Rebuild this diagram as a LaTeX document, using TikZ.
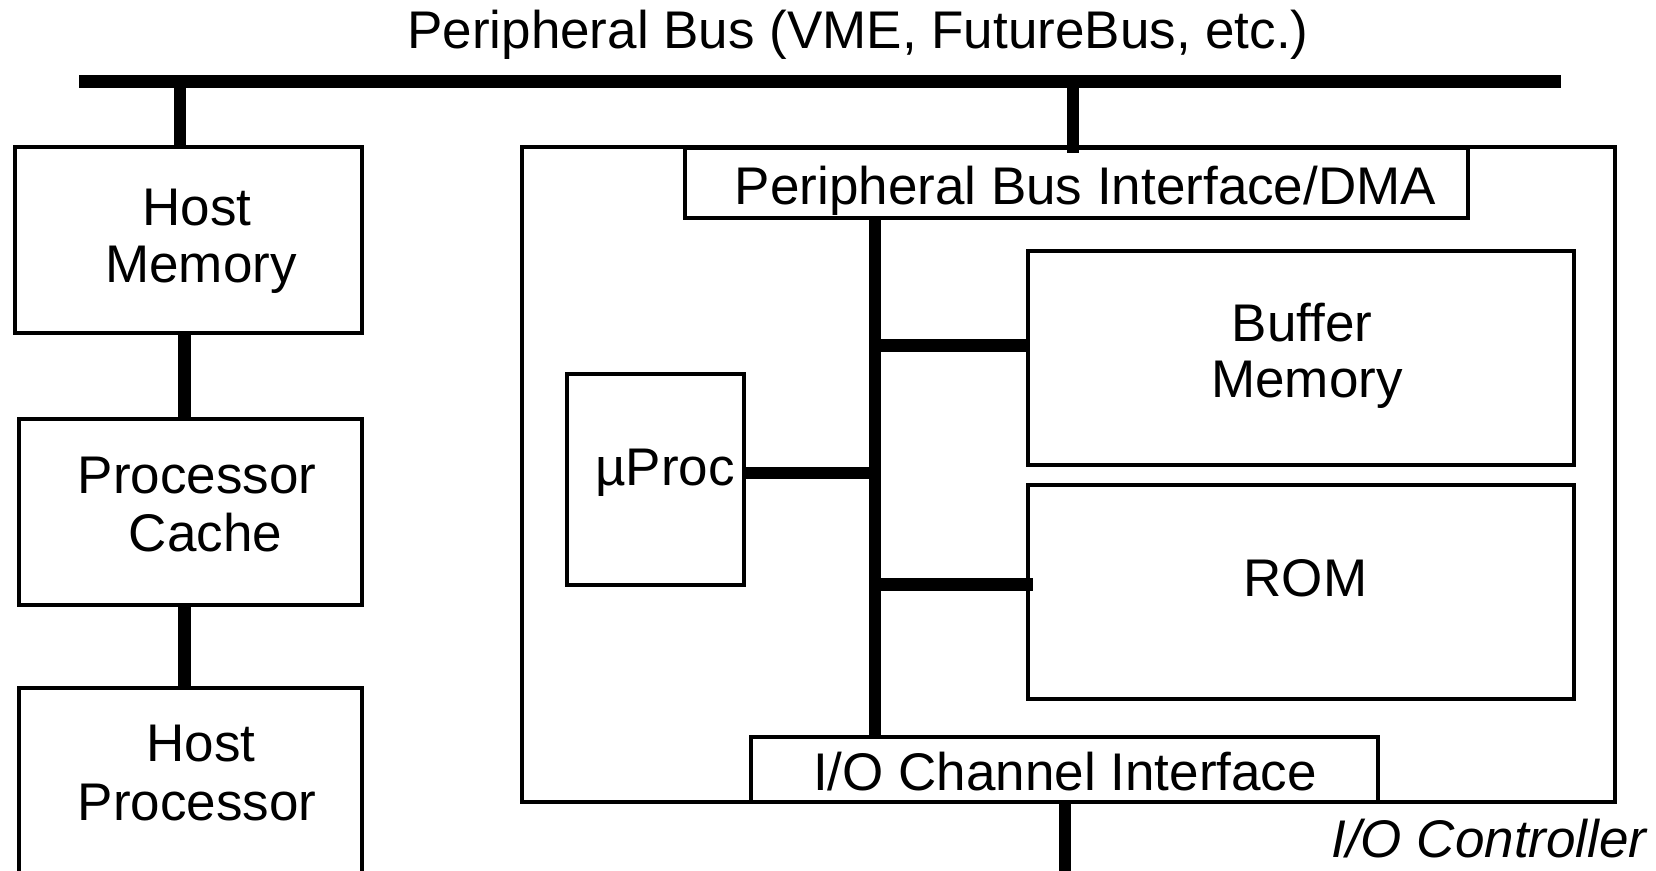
\documentclass[tikz,border=0pt]{standalone}
\usepackage{fontspec}
\setmainfont{Liberation Sans}
\usetikzlibrary{fit,calc}
\begin{document}
\begin{tikzpicture}[x=0.5pt,y=-0.5pt,
  box/.style={draw, line width=1.7pt, inner sep=0pt, outer sep=0pt},
  bus/.style={line width=6.3pt},
  lbl/.style={anchor=base, inner sep=0pt, font=\fontsize{26.5pt}{28pt}\selectfont},
  ilbl/.style={lbl, font=\fontsize{26.5pt}{28pt}\selectfont\itshape},
]
\useasboundingbox (0,0) rectangle (1656,871);

% host side
\node[box, fit={(15,147) (362,333)}] (hm) {};
\node[box, fit={(19,419) (362,605)}] (pc) {};
\node[box, fit={(19,688) (362,900)}] (hp) {};

% I/O controller and its parts
\node[box, fit={(522,147) (1615,802)}] (ioc) {};
\node[box, fit={(685,148) (1468,218)}] (pbi) {};
\node[box, fit={(1028,251) (1574,465)}] (buf) {};
\node[box, fit={(567,374) (744,585)}] (up) {};
\node[box, fit={(1028,485) (1574,699)}] (rom) {};
\node[box, fit={(751,737) (1378,802)}] (ioci) {};

% peripheral bus
\coordinate (busL) at (79,81.5);
\coordinate (busR) at (1561,81.5);
\draw[bus] (busL) -- (busR);
\node[lbl] (title) at (858,49) {Peripheral Bus (VME, FutureBus, etc.)};

% host chain
\coordinate (s1) at (180,81.5);
\draw[bus] (s1) -- (s1 |- hm.north);
\coordinate (s2) at (184.5,0);
\draw[bus] (s2 |- hm.south) -- (s2 |- pc.north);
\draw[bus] (s2 |- pc.south) -- (s2 |- hp.north);

% controller attachment to the bus
\coordinate (s3) at (1073,81.5);
\draw[bus] (s3) -- ($(s3 |- pbi.north)+(0,5)$);

% internal bus and branches
\coordinate (ib) at (875,0);
\draw[bus] (ib |- pbi.south) -- (ib |- ioci.north);
\coordinate (bBuf) at (1028,345.5);
\draw[bus] (bBuf -| ib) -- (bBuf);
\coordinate (bUp) at (744,473);
\draw[bus] (bUp) -- (bUp -| ib);
\coordinate (bRom) at (1033,584.5);
\draw[bus] (bRom -| ib) -- (bRom);

% I/O channel
\coordinate (s4) at (1065,900);
\draw[bus] (s4 |- ioci.south) -- (s4);

% labels
\node[lbl] (hmA) at (197,226) {Host};
\node[lbl] (hmB) at (201,283) {Memory};
\node[lbl] (pcA) at (197,494) {Processor};
\node[lbl] (pcB) at (205.5,551.5) {Cache};
\node[lbl] (hpA) at (201,762) {Host};
\node[lbl] (hpB) at (197,820) {Processor};
\node[lbl] (pbiT) at (1085.5,205) {Peripheral Bus Interface/DMA};
\node[lbl] (bufA) at (1302,341.5) {Buffer};
\node[lbl] (bufB) at (1307,398) {Memory};
\node[lbl] (upT) at (665,486) {µProc};
\node[lbl] (romT) at (1305.5,597) {ROM};
\node[lbl] (iociT) at (1065,791) {I/O Channel Interface};
\node[ilbl, anchor=base east] (iocT) at (1647,857) {I/O Controller};
\end{tikzpicture}
\end{document}
